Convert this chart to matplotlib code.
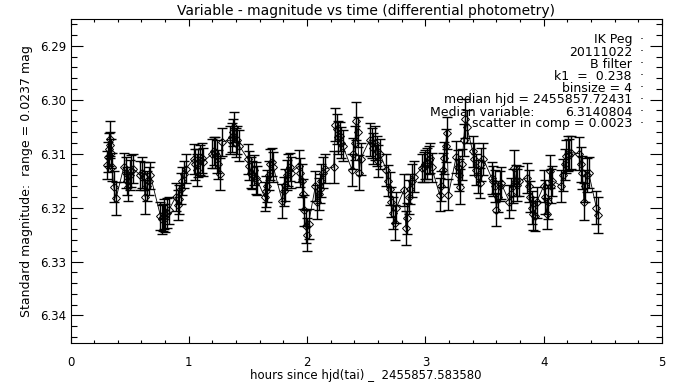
import numpy as np
import matplotlib.pyplot as plt
from matplotlib.ticker import MultipleLocator, FormatStrFormatter

# hours since hjd(tai) 2455857.583580, B filter magnitudes
hours = [0.309, 0.316, 0.323, 0.330, 0.337, 0.345, 0.352, 0.365, 0.385,
         0.450, 0.465, 0.478, 0.490, 0.502, 0.515, 0.530,
         0.590, 0.605, 0.618, 0.630, 0.645, 0.660, 0.675,
         0.760, 0.770, 0.780, 0.790, 0.800, 0.815, 0.830,
         0.890, 0.905, 0.918, 0.930, 0.945, 0.960, 0.975,
         1.040, 1.055, 1.068, 1.080, 1.095, 1.108, 1.120,
         1.200, 1.212, 1.225, 1.238, 1.250, 1.265, 1.280,
         1.350, 1.362, 1.375, 1.386, 1.398, 1.410, 1.425,
         1.500, 1.513, 1.525, 1.537, 1.550, 1.565, 1.580,
         1.640, 1.652, 1.665, 1.677, 1.690, 1.702, 1.715,
         1.790, 1.802, 1.815, 1.827, 1.840, 1.852, 1.865,
         1.930, 1.943, 1.955, 1.965, 1.975, 1.988, 2.000, 2.012,
         2.070, 2.085, 2.097, 2.108, 2.120, 2.135, 2.150,
         2.225, 2.240, 2.252, 2.263, 2.275, 2.288, 2.300,
         2.380, 2.392, 2.405, 2.415, 2.427, 2.440, 2.452,
         2.530, 2.545, 2.558, 2.572, 2.588, 2.603, 2.615,
         2.670, 2.685, 2.700, 2.713, 2.727, 2.740, 2.755,
         2.820, 2.835, 2.847, 2.860, 2.874, 2.888, 2.900,
         2.970, 2.985, 2.998, 3.012, 3.027, 3.040, 3.052,
         3.120, 3.132, 3.145, 3.158, 3.170, 3.182, 3.195,
         3.260, 3.273, 3.285, 3.296, 3.310, 3.324, 3.338, 3.350,
         3.400, 3.415, 3.430, 3.443, 3.458, 3.473, 3.490,
         3.560, 3.574, 3.588, 3.600, 3.613, 3.627, 3.640,
         3.710, 3.724, 3.738, 3.750, 3.764, 3.778, 3.790,
         3.860, 3.873, 3.887, 3.900, 3.913, 3.927, 3.940,
         4.000, 4.013, 4.025, 4.038, 4.050, 4.062, 4.072,
         4.150, 4.163, 4.177, 4.190, 4.203, 4.217, 4.230,
         4.300, 4.313, 4.327, 4.340, 4.353, 4.365, 4.380,
         4.445, 4.458]

mag = [6.3121, 6.3106, 6.3092, 6.3084, 6.3072, 6.3099, 6.3124, 6.3161, 6.3183,
       6.3125, 6.3135, 6.3150, 6.3162, 6.3140, 6.3132, 6.3128,
       6.3140, 6.3135, 6.3142, 6.3180, 6.3160, 6.3150, 6.3140,
       6.3215, 6.3222, 6.3218, 6.3212, 6.3220, 6.3210, 6.3205,
       6.3180, 6.3195, 6.3185, 6.3165, 6.3150, 6.3138, 6.3128,
       6.3110, 6.3120, 6.3130, 6.3118, 6.3112, 6.3108, 6.3115,
       6.3100, 6.3095, 6.3098, 6.3105, 6.3120, 6.3138, 6.3078,
       6.3075, 6.3070, 6.3060, 6.3050, 6.3080, 6.3075, 6.3085,
       6.3110, 6.3122, 6.3135, 6.3140, 6.3130, 6.3145, 6.3150,
       6.3180, 6.3170, 6.3160, 6.3140, 6.3120, 6.3115, 6.3125,
       6.3188, 6.3170, 6.3158, 6.3140, 6.3130, 6.3125, 6.3135,
       6.3123, 6.3135, 6.3150, 6.3175, 6.3205, 6.3235, 6.3250, 6.3230,
       6.3160, 6.3190, 6.3175, 6.3165, 6.3150, 6.3135, 6.3128,
       6.3125, 6.3046, 6.3055, 6.3070, 6.3068, 6.3080, 6.3085,
       6.3130, 6.3100, 6.3080, 6.3040, 6.3060, 6.3135, 6.3110,
       6.3074, 6.3080, 6.3090, 6.3080, 6.3095, 6.3114, 6.3100,
       6.3130, 6.3150, 6.3165, 6.3190, 6.3210, 6.3228, 6.3200,
       6.3167, 6.3238, 6.3220, 6.3180, 6.3165, 6.3150, 6.3143,
       6.3127, 6.3125, 6.3120, 6.3118, 6.3112, 6.3108, 6.3125,
       6.3176, 6.3160, 6.3130, 6.3108, 6.3085, 6.3062, 6.3176,
       6.3106, 6.3125, 6.3140, 6.3161, 6.3120, 6.3075, 6.3035, 6.3050,
       6.3096, 6.3110, 6.3130, 6.3142, 6.3155, 6.3120, 6.3110,
       6.3145, 6.3150, 6.3160, 6.3204, 6.3180, 6.3160, 6.3155,
       6.3189, 6.3175, 6.3160, 6.3127, 6.3150, 6.3158, 6.3150,
       6.3145, 6.3160, 6.3180, 6.3200, 6.3211, 6.3215, 6.3190,
       6.3160, 6.3180, 6.3211, 6.3190, 6.3133, 6.3160, 6.3150,
       6.3160, 6.3140, 6.3120, 6.3105, 6.3100, 6.3102, 6.3098,
       6.3100, 6.3120, 6.3135, 6.3189, 6.3160, 6.3140, 6.3135,
       6.3200, 6.3214]

err = [0.0026, 0.0028, 0.0030, 0.0025, 0.0032, 0.0027, 0.0026, 0.0028, 0.0030,
       0.0027, 0.0029, 0.0026, 0.0025, 0.0028, 0.0030, 0.0027,
       0.0027, 0.0029, 0.0026, 0.0031, 0.0027, 0.0026, 0.0025,
       0.0026, 0.0027, 0.0025, 0.0028, 0.0026, 0.0027, 0.0025,
       0.0026, 0.0028, 0.0027, 0.0029, 0.0026, 0.0025, 0.0027,
       0.0027, 0.0029, 0.0030, 0.0026, 0.0028, 0.0027, 0.0026,
       0.0027, 0.0026, 0.0028, 0.0030, 0.0027, 0.0029, 0.0026,
       0.0026, 0.0027, 0.0025, 0.0028, 0.0027, 0.0026, 0.0029,
       0.0028, 0.0027, 0.0029, 0.0026, 0.0028, 0.0030, 0.0027,
       0.0027, 0.0028, 0.0030, 0.0027, 0.0029, 0.0026, 0.0028,
       0.0031, 0.0027, 0.0029, 0.0028, 0.0030, 0.0026, 0.0028,
       0.0029, 0.0027, 0.0030, 0.0028, 0.0029, 0.0031, 0.0030, 0.0028,
       0.0028, 0.0032, 0.0029, 0.0027, 0.0030, 0.0028, 0.0027,
       0.0029, 0.0031, 0.0028, 0.0030, 0.0027, 0.0029, 0.0028,
       0.0030, 0.0029, 0.0031, 0.0035, 0.0028, 0.0032, 0.0030,
       0.0030, 0.0028, 0.0029, 0.0031, 0.0027, 0.0030, 0.0028,
       0.0030, 0.0029, 0.0031, 0.0028, 0.0030, 0.0032, 0.0029,
       0.0030, 0.0032, 0.0029, 0.0031, 0.0028, 0.0030, 0.0029,
       0.0026, 0.0028, 0.0027, 0.0029, 0.0026, 0.0028, 0.0027,
       0.0030, 0.0028, 0.0032, 0.0029, 0.0031, 0.0030, 0.0029,
       0.0029, 0.0031, 0.0030, 0.0032, 0.0029, 0.0030, 0.0036, 0.0031,
       0.0028, 0.0030, 0.0029, 0.0031, 0.0028, 0.0030, 0.0029,
       0.0029, 0.0028, 0.0030, 0.0031, 0.0029, 0.0028, 0.0030,
       0.0030, 0.0029, 0.0031, 0.0033, 0.0029, 0.0030, 0.0028,
       0.0028, 0.0030, 0.0029, 0.0031, 0.0030, 0.0028, 0.0029,
       0.0030, 0.0031, 0.0029, 0.0032, 0.0030, 0.0031, 0.0028,
       0.0029, 0.0030, 0.0028, 0.0031, 0.0033, 0.0029, 0.0030,
       0.0030, 0.0032, 0.0031, 0.0034, 0.0030, 0.0031, 0.0029,
       0.0031, 0.0033]

info_lines = ['IK Peg', '20111022', 'B filter', 'k1  =  0.238', 'binsize = 4',
              'median hjd = 2455857.72431', '6.3140804', 'scatter in comp = 0.0023']
info_y = [40, 52, 64, 76, 88, 100, 112, 124]   # pixel rows of the legend lines

W, H = 683, 384
fig = plt.figure(figsize=(W / 100, H / 100), dpi=100)
ax = fig.add_axes([70.5 / W, 1 - 343 / H, (662 - 70.5) / W, (343 - 19.3) / H])

ax.errorbar(hours, mag, yerr=err, fmt='none', ecolor='k', elinewidth=1.0,
            capsize=3.5, capthick=1.0)
ax.plot(hours, mag, '-', color='k', lw=0.6, marker='D', ms=4.5,
        mfc='none', mec='k', mew=0.7)

ax.set_xlim(0, 5)
ax.set_ylim(6.3451, 6.2851)
ax.xaxis.set_major_locator(MultipleLocator(1))
ax.xaxis.set_minor_locator(MultipleLocator(0.2))
ax.yaxis.set_major_locator(MultipleLocator(0.01))
ax.yaxis.set_minor_locator(MultipleLocator(0.002))
ax.yaxis.set_major_formatter(FormatStrFormatter('%.2f'))
ax.tick_params(which='both', direction='in', top=True, right=True,
               width=0.8, labelsize=8.5, colors='k')
ax.tick_params(axis='x', which='major', length=4.7, pad=9)
ax.tick_params(axis='x', which='minor', length=2.4)
ax.tick_params(axis='y', which='major', length=8.6, pad=3)
ax.tick_params(axis='y', which='minor', length=4.3)
for s in ax.spines.values():
    s.set_linewidth(0.8)

ax.set_title('Variable - magnitude vs time (differential photometry)',
             fontsize=10, pad=3)
ax.set_xlabel('hours since hjd(tai) _  2455857.583580', fontsize=8.5, labelpad=0)
ax.set_ylabel('Standard magnitude:  range = 0.0237 mag', fontsize=9, labelpad=5)

for txt, yp in zip(info_lines, info_y):
    fig.text(632 / W, 1 - yp / H, txt, ha='right', va='center', fontsize=9)
    fig.text(642 / W, 1 - yp / H, '·', ha='center', va='center', fontsize=9)
fig.text(430 / W, 1 - info_y[6] / H, 'Median variable:', ha='left', va='center',
         fontsize=9)

fig.savefig('out.png', dpi=100, facecolor='white')
